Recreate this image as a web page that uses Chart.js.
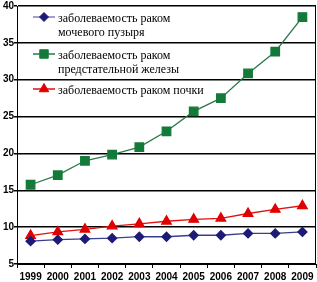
<!DOCTYPE html>
<html>
<head>
<meta charset="utf-8">
<script src="https://cdn.jsdelivr.net/npm/chart.js@4"></script>
<style>
  html, body { margin: 0; padding: 0; background: #fff; }
  #wrap { width: 317px; height: 282px; }
</style>
</head>
<body>
<div id="wrap"><canvas id="chart" width="317" height="282"></canvas></div>
<script>
// данные с графика
const years = ['1999', '2000', '2001', '2002', '2003', '2004', '2005', '2006', '2007', '2008', '2009'];
const bladder = [8.1, 8.3, 8.4, 8.5, 8.7, 8.7, 8.9, 8.9, 9.15, 9.15, 9.35];
const prostate = [15.75, 17.05, 19.0, 19.85, 20.85, 23.0, 25.7, 27.5, 30.85, 33.8, 38.5];
const kidney = [8.85, 9.35, 9.7, 10.15, 10.45, 10.8, 11.05, 11.2, 11.85, 12.4, 12.9];
const labels = [
    ['заболеваемость раком', 'мочевого пузыря'],
    ['заболеваемость раком', 'предстательной железы'],
    ['заболеваемость раком почки']
];
const yTicks = [5, 10, 15, 20, 25, 30, 35, 40];

// легенда внутри области графика
const innerLegend = {
    id: 'innerLegend',
    afterDraw(chart) {
        const ctx = chart.ctx;
        const rows = [17, 54, 89];
        ctx.save();
        ctx.font = '12px "Liberation Serif", "DejaVu Serif", serif';
        ctx.textBaseline = 'middle';
        chart.data.datasets.forEach((ds, i) => {
            const y = rows[i];
            ctx.strokeStyle = ds.legendLine || ds.borderColor;
            ctx.lineWidth = 1.5;
            ctx.beginPath();
            ctx.moveTo(33, y);
            ctx.lineTo(55, y);
            ctx.stroke();
            ctx.fillStyle = ds.pointBackgroundColor;
            ctx.strokeStyle = ds.pointBorderColor;
            ctx.lineWidth = 1;
            Chart.helpers.drawPoint(ctx, {
                pointStyle: ds.pointStyle,
                radius: ds.pointRadius,
                borderWidth: 1
            }, 44, y);
            ctx.fillStyle = '#000';
            ds.label.forEach((line, k) => {
                ctx.fillText(line, 58, y + 2 + k * 14);
            });
        });
        // рамка справа
        const a = chart.chartArea;
        ctx.strokeStyle = '#000';
        ctx.lineWidth = 1;
        ctx.beginPath();
        ctx.moveTo(a.right - 0.5, a.top);
        ctx.lineTo(a.right - 0.5, a.bottom);
        ctx.stroke();
        ctx.restore();
    }
};

const ctx = document.getElementById('chart').getContext('2d');
const chart = new Chart(ctx, {
    type: 'line',
    data: {
        labels: years,
        datasets: [{
            label: labels[0],
            data: bladder,
            borderColor: '#3c3c8c',
            legendLine: '#8080c0',
            backgroundColor: '#1c1c78',
            pointBackgroundColor: '#1c1c78',
            pointBorderColor: '#1c1c78',
            pointStyle: 'rectRot',
            pointRadius: 4.5,
            borderWidth: 1.3
        }, {
            label: labels[1],
            data: prostate,
            borderColor: '#2a7a48',
            backgroundColor: '#137a3a',
            pointBackgroundColor: '#137a3a',
            pointBorderColor: '#137a3a',
            pointStyle: 'rect',
            pointRadius: 6,
            borderWidth: 1.3
        }, {
            label: labels[2],
            data: kidney,
            borderColor: '#e01010',
            backgroundColor: '#e00000',
            pointBackgroundColor: '#e00000',
            pointBorderColor: '#e00000',
            pointStyle: 'triangle',
            pointRadius: 5.5,
            borderWidth: 1.3
        }]
    },
    options: {
        responsive: false,
        animation: false,
        layout: { autoPadding: false, padding: { top: 4, right: 1, left: 0, bottom: 0 } },
        plugins: {
            legend: { display: false },
            tooltip: { enabled: false }
        },
        scales: {
            x: {
                offset: true,
                grid: {
                    offset: true,
                    drawOnChartArea: false,
                    drawTicks: true,
                    tickLength: 4,
                    color: '#000'
                },
                border: { color: '#000', width: 1 },
                ticks: {
                    color: '#000',
                    padding: 3,
                    maxRotation: 0,
                    autoSkip: false,
                    font: { family: '"Liberation Sans", Arial, sans-serif', size: 10, weight: 'bold' }
                },
                afterFit(scale) { scale.height = 18; }
            },
            y: {
                min: 5,
                max: 40,
                afterBuildTicks(scale) { scale.ticks = yTicks.map(v => ({ value: v })); },
                grid: {
                    color: '#000',
                    lineWidth: 1.5,
                    tickLength: 3
                },
                border: { color: '#000', width: 1 },
                ticks: {
                    color: '#000',
                    padding: 0,
                    font: { family: '"Liberation Sans", Arial, sans-serif', size: 10, weight: 'bold' }
                },
                afterFit(scale) { scale.width = 17; }
            }
        }
    },
    plugins: [innerLegend]
});
</script>
</body>
</html>
